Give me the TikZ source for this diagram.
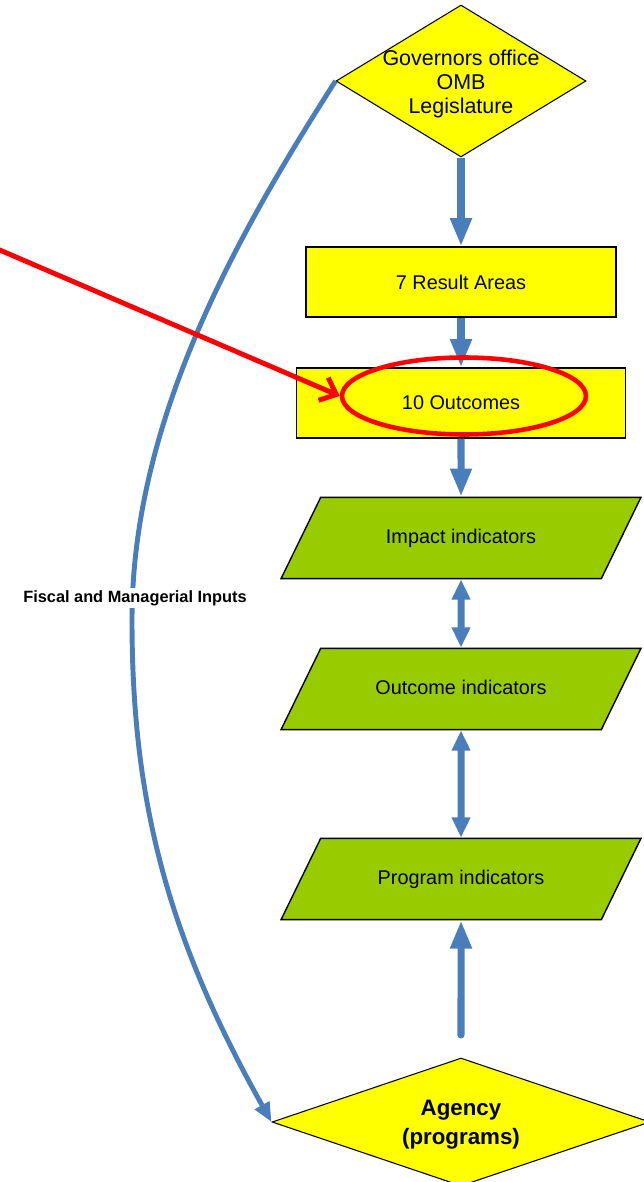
\documentclass[tikz,border=0pt]{standalone}
\usepackage{fontspec}
\setmainfont{Liberation Sans}
\usetikzlibrary{shapes.geometric}
\usetikzlibrary{arrows.meta}
\usetikzlibrary{calc}
\definecolor{areayellow}{HTML}{FFFF00}
\definecolor{indgreen}{HTML}{99CC00}
\definecolor{flowblue}{HTML}{4A7EBB}
\definecolor{markred}{HTML}{FF0000}

\begin{document}
\begin{tikzpicture}[x=0.02cm,y=-0.02cm]
		\tikzset{
			areabox/.style={draw=black,line width=0.8pt,fill=areayellow,minimum height=1.4cm,font=\fontsize{11.3}{13.5}\selectfont},
			indbox/.style={draw=black,line width=0.8pt,fill=indgreen,trapezium,trapezium left angle=64,trapezium right angle=116,trapezium stretches body,
				text height=8.2pt,text depth=2.3pt,inner ysep=17.9pt,minimum width=7.2cm,font=\fontsize{11.3}{13.5}\selectfont},
			decision/.style={draw=black,line width=0.6pt,fill=areayellow,diamond,inner sep=0pt},
		}
		\tikzset{
			flow/.style={color=flowblue,line width=4pt,-{Triangle[length=16pt,width=11.5pt]}},
			twoway/.style={color=flowblue,line width=4pt,{Triangle[length=11.5pt,width=10pt]}-{Triangle[length=11.5pt,width=10pt]}},
			feed/.style={color=flowblue,line width=2.8pt,-{Triangle[length=11pt,width=9pt]}},
		}
		\newcommand{\midx}{461}
		
		\useasboundingbox (0,0) rectangle (643,1182);
		
		\node[decision,minimum width=5cm,minimum height=3.04cm,
			label={[align=center,yshift=-0.06cm,font=\fontsize{12.2}{13.6}\selectfont]center:Governors office\\OMB\\Legislature}] (gov) at (\midx, 81) {};
		
		\node[areabox,minimum width=6.2cm] (areas) at (\midx, 282) {7 Result Areas};
		\node[areabox,minimum width=6.58cm] (outc) at (\midx, 403) {10 Outcomes};
		
		\node[indbox] (impact) at (\midx, 538) {Impact indicators};
		\node[indbox] (outind) at (\midx, 689) {Outcome indicators};
		\node[indbox] (progind) at (\midx, 879) {Program indicators};
		
		\node[decision,minimum width=7.56cm,minimum height=2.56cm,
			label={[align=center,yshift=-0.05cm,font=\bfseries\fontsize{12.7}{16.4}\selectfont]center:Agency\\(programs)}] (agency) at (\midx, 1122) {};
		\coordinate (agencyin) at (\midx, 1035);
		
		\draw[flow] (gov.south) to (areas.north);
		\draw[flow] (areas.south) to (outc.north);
		\draw[flow] (outc.south) to (impact.north);
		\draw[twoway] (impact.south) to (outind.north);
		\draw[twoway] (outind.south) to (progind.north);
		\draw[flow,line cap=round] (agencyin) to (progind.south);
		
		% inputs from the top down to the agencies
		\draw[feed] (gov.west) .. controls (237,235) and (132,420) .. (132,620)
			.. controls (132,800) and (167,936) .. (agency.west);
		\node[fill=white,inner sep=1.5pt,font=\bfseries\fontsize{9.3}{11}\selectfont] (inputs) at (135, 598) {Fiscal and Managerial Inputs};
		
		% highlight
		\node[draw=markred,line width=2.6pt,ellipse,minimum width=4.88cm,minimum height=1.54cm] (mark) at (464, 396) {};
		\coordinate (pointer) at (-5, 248);
		\draw[markred,line width=2.8pt,line cap=round,-{Straight Barb[length=8pt,width=14pt]}] (pointer) to (mark.west);
	\end{tikzpicture}
\end{document}
